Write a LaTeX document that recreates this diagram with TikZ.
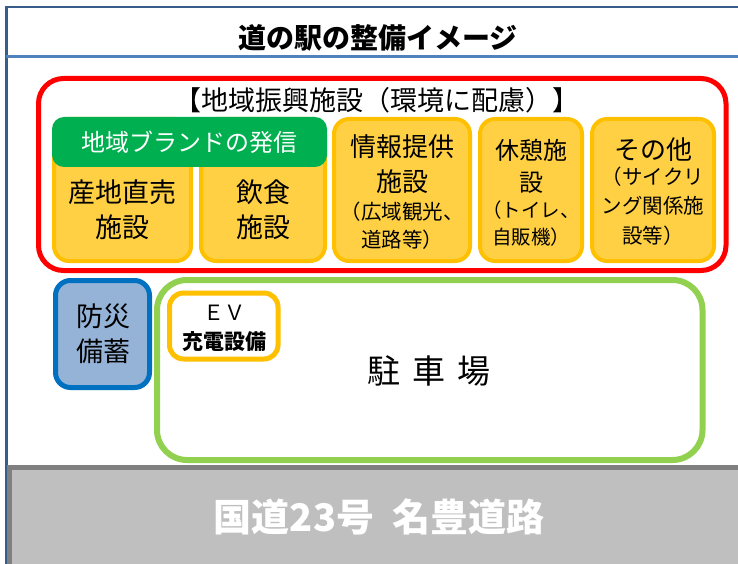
\documentclass[tikz,border=0pt]{standalone}
\usepackage{fontspec}
\setmainfont{Noto Sans CJK JP}
\definecolor{frameblue}{HTML}{385D8A}
\definecolor{headblue}{HTML}{4F81BD}
\definecolor{redline}{HTML}{FF0000}
\definecolor{yfill}{HTML}{FFD044}
\definecolor{yline}{HTML}{FFC000}
\definecolor{bannergreen}{HTML}{00B050}
\definecolor{bfill}{HTML}{95B3D7}
\definecolor{bline}{HTML}{0070C0}
\definecolor{gline}{HTML}{92D050}
\definecolor{roadfill}{HTML}{BFBFBF}
\definecolor{roadline}{HTML}{7F7F7F}
\begin{document}
\begin{tikzpicture}[x=1pt,y=-1pt,
  every node/.style={inner sep=0pt, outer sep=0pt},
  redbox/.style={draw=redline, line width=5pt, rounded corners=25pt},
  ybox/.style={draw=yline, fill=yfill, line width=4pt, rounded corners=15pt},
  banner/.style={fill=bannergreen, rounded corners=12pt},
  bluebox/.style={draw=bline, fill=bfill, line width=5pt, rounded corners=15pt},
  parkbox/.style={draw=gline, fill=white, line width=6pt, rounded corners=30pt},
  evbox/.style={draw=yline, fill=white, line width=5pt, rounded corners=14pt},
  roadbox/.style={draw=roadline, fill=roadfill, line width=5pt},
  txt/.style={align=center, text=black},
  fs/.style 2 args={font={\fontsize{#1}{#2}\selectfont}}
]
\useasboundingbox (0,0) rectangle (738,564);
\clip (0,0) rectangle (738,564);
\fill[white] (0,0) rectangle (738,564);
% frame
\draw[frameblue, line width=2.5pt] (6.3,580) -- (6.3,7.2) -- (760,7.2);
\draw[headblue, line width=2.5pt] (6.3,56.7) -- (760,56.7);
\node[txt, fs={28}{34}] (title) at (378,38) {\bfseries 道の駅の整備イメージ};
% regional promotion facilities
\node[redbox, minimum width=687.5pt, minimum height=192pt] (region) at (382.25,174.5) {};
\node[txt, fs={27}{32}] (regionhead) at (377,100) {【地域振興施設（環境に配慮）】};
\node[ybox, minimum width=137pt, minimum height=142pt] (sanchi) at (122.5,190) {};
\node[ybox, minimum width=124pt, minimum height=142pt] (inshoku) at (263,190) {};
\node[ybox, minimum width=136pt, minimum height=142pt] (joho) at (402,190) {};
\node[ybox, minimum width=102pt, minimum height=142pt] (kyukei) at (531,190) {};
\node[ybox, minimum width=122pt, minimum height=142pt] (sonota) at (653,190) {};
\node[banner, minimum width=275pt, minimum height=50pt, text=white, fs={24}{28}] (brand) at (189.5,142) {地域ブランドの発信};
\node[txt, fs={27}{35}] (sanchitext) at (122.5,209.5) {産地直売\\施設};
\node[txt, fs={27}{35}] (inshokutext) at (263,209.5) {飲食\\施設};
\node[txt, fs={26}{35}] (johotext) at (402,164.5) {情報提供\\施設};
\node[txt, fs={20.5}{28}] (johosub) at (402,226) {（広域観光、\\道路等）};
\node[txt, fs={24}{32}] (kyukeitext) at (531,166) {休憩施\\設};
\node[txt, fs={19.5}{27}] (kyukeisub) at (531,223.5) {（トイレ、\\自販機）};
\node[txt, fs={26}{32}] (sonotatext) at (653,150) {その他};
\node[txt, fs={20.5}{29.5}] (sonotasub) at (653,206) {（サイクリ\\ング関係施\\設等）};
% disaster stockpile
\node[bluebox, minimum width=94pt, minimum height=107pt] (bosai) at (102.5,334) {};
\node[txt, fs={27}{35}] (bosaitext) at (103,334) {防災\\備蓄};
% parking
\node[parkbox, minimum width=545.5pt, minimum height=180pt] (parking) at (429.75,370) {};
\node[txt, fs={33}{40}] (parkingtext) at (429,371) {駐\hspace{12pt}車\hspace{12pt}場};
\node[evbox, minimum width=108.5pt, minimum height=66pt] (ev) at (223.75,326) {};
\node[txt, fs={21}{29}] (evtext) at (224.5,328) {ＥＶ\\\bfseries 充電設備};
% road
\node[roadbox, minimum width=735.5pt, minimum height=102.5pt] (road) at (377.25,518.75) {};
\node[text=white, fs={38}{44}] (roadtext) at (379,517) {\bfseries 国道23号\hspace{18pt}名豊道路};
\end{tikzpicture}
\end{document}
